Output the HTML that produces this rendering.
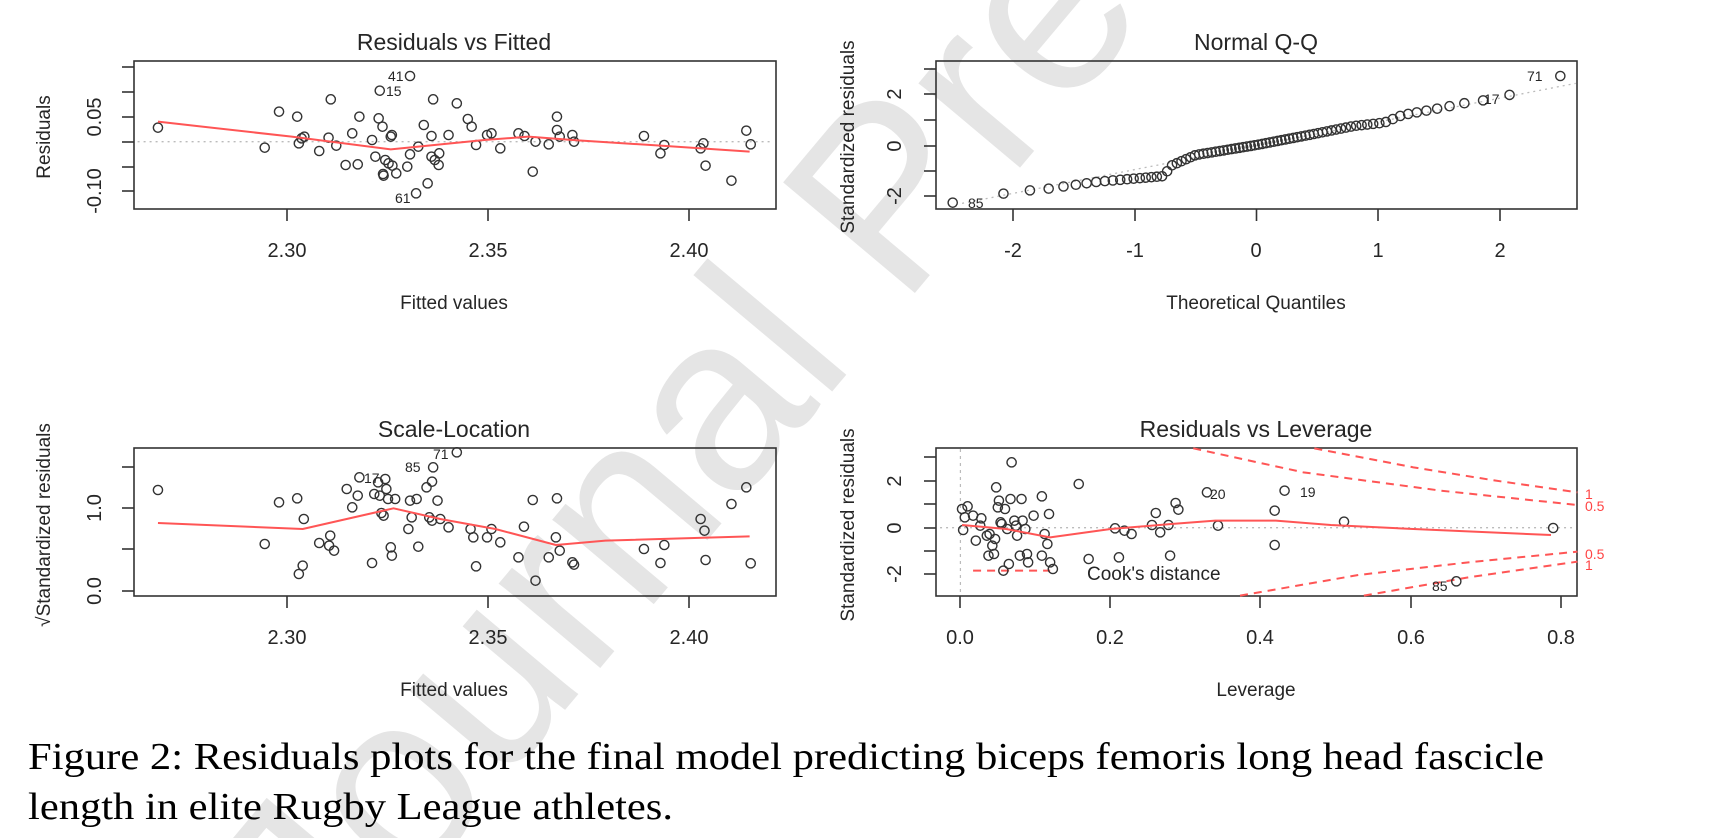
<!DOCTYPE html>
<html><head><meta charset="utf-8"><style>
html,body{margin:0;padding:0;background:#fff;overflow:hidden;width:1726px;height:838px;}
svg{display:block;}
text{font-family:"Liberation Sans",Arial,sans-serif;fill:#262626;}
.t{font-size:23px;}
.tk{font-size:20px;}
.al{font-size:19px;}
.pl{font-size:14px;}
.cap{font-family:"Liberation Serif","Times New Roman",serif;font-size:38px;fill:#000;}
</style></head><body>
<svg id="s" width="1726" height="838" viewBox="0 0 1726 838" xmlns="http://www.w3.org/2000/svg" overflow="hidden">
<text x="330" y="990" transform="rotate(-50 330 990)" style="font-size:250px;fill:#e5e5e5;font-family:'Liberation Sans',sans-serif">Journal Pre-proof</text>
<g id="g"></g>
<!-- Plot 1 -->
<text class="t" x="454" y="50" text-anchor="middle">Residuals vs Fitted</text>
<text class="al" x="454" y="309" text-anchor="middle">Fitted values</text>
<text class="al" transform="translate(50,137) rotate(-90)" text-anchor="middle">Residuals</text>
<text class="tk" x="287" y="257" text-anchor="middle">2.30</text>
<text class="tk" x="488" y="257" text-anchor="middle">2.35</text>
<text class="tk" x="689" y="257" text-anchor="middle">2.40</text>
<text class="tk" transform="translate(101,117) rotate(-90)" text-anchor="middle">0.05</text>
<text class="tk" transform="translate(101,191) rotate(-90)" text-anchor="middle">-0.10</text>
<text class="pl" x="388" y="81">41</text>
<text class="pl" x="386" y="96">15</text>
<text class="pl" x="395" y="203">61</text>
<!-- Plot 2 -->
<text class="t" x="1256" y="50" text-anchor="middle">Normal Q-Q</text>
<text class="al" x="1256" y="309" text-anchor="middle">Theoretical Quantiles</text>
<text class="al" transform="translate(854,137) rotate(-90)" text-anchor="middle">Standardized residuals</text>
<text class="tk" x="1013" y="257" text-anchor="middle">-2</text>
<text class="tk" x="1135" y="257" text-anchor="middle">-1</text>
<text class="tk" x="1256" y="257" text-anchor="middle">0</text>
<text class="tk" x="1378" y="257" text-anchor="middle">1</text>
<text class="tk" x="1500" y="257" text-anchor="middle">2</text>
<text class="tk" transform="translate(901,94) rotate(-90)" text-anchor="middle">2</text>
<text class="tk" transform="translate(901,146) rotate(-90)" text-anchor="middle">0</text>
<text class="tk" transform="translate(901,196) rotate(-90)" text-anchor="middle">-2</text>
<text class="pl" x="968" y="208">85</text>
<text class="pl" x="1484" y="104">17</text>
<text class="pl" x="1527" y="81">71</text>
<!-- Plot 3 -->
<text class="t" x="454" y="437" text-anchor="middle">Scale-Location</text>
<text class="al" x="454" y="696" text-anchor="middle">Fitted values</text>
<text class="al" transform="translate(50,525) rotate(-90)" text-anchor="middle">√Standardized residuals</text>
<text class="tk" x="287" y="644" text-anchor="middle">2.30</text>
<text class="tk" x="488" y="644" text-anchor="middle">2.35</text>
<text class="tk" x="689" y="644" text-anchor="middle">2.40</text>
<text class="tk" transform="translate(101,508) rotate(-90)" text-anchor="middle">1.0</text>
<text class="tk" transform="translate(101,591) rotate(-90)" text-anchor="middle">0.0</text>
<text class="pl" x="364" y="483">17</text>
<text class="pl" x="405" y="472">85</text>
<text class="pl" x="433" y="459">71</text>
<!-- Plot 4 -->
<text class="t" x="1256" y="437" text-anchor="middle">Residuals vs Leverage</text>
<text class="al" x="1256" y="696" text-anchor="middle">Leverage</text>
<text class="al" transform="translate(854,525) rotate(-90)" text-anchor="middle">Standardized residuals</text>
<text class="tk" x="960" y="644" text-anchor="middle">0.0</text>
<text class="tk" x="1110" y="644" text-anchor="middle">0.2</text>
<text class="tk" x="1260" y="644" text-anchor="middle">0.4</text>
<text class="tk" x="1411" y="644" text-anchor="middle">0.6</text>
<text class="tk" x="1561" y="644" text-anchor="middle">0.8</text>
<text class="tk" transform="translate(901,481) rotate(-90)" text-anchor="middle">2</text>
<text class="tk" transform="translate(901,528) rotate(-90)" text-anchor="middle">0</text>
<text class="tk" transform="translate(901,574) rotate(-90)" text-anchor="middle">-2</text>
<text class="al" x="1087" y="580">Cook's distance</text>
<text class="pl" x="1210" y="499">20</text>
<text class="pl" x="1300" y="497">19</text>
<text class="pl" x="1432" y="591">85</text>
<text class="pl" x="1585" y="499" style="fill:#f44">1</text>
<text class="pl" x="1585" y="511" style="fill:#f44">0.5</text>
<text class="pl" x="1585" y="559" style="fill:#f44">0.5</text>
<text class="pl" x="1585" y="570" style="fill:#f44">1</text>
<!-- caption -->
<text class="cap" x="28" y="769" textLength="1516" lengthAdjust="spacingAndGlyphs">Figure 2: Residuals plots for the final model predicting biceps femoris long head fascicle</text>
<text class="cap" x="28" y="819" textLength="645" lengthAdjust="spacingAndGlyphs">length in elite Rugby League athletes.</text>
</svg>
<script>
var NS="http://www.w3.org/2000/svg",G=document.getElementById("g");
function el(n,a){var e=document.createElementNS(NS,n);for(var k in a)e.setAttribute(k,a[k]);G.appendChild(e);return e;}
var KX=863/1568,KY=419/1257;
function P(ox,oy){return function(p){return [ox+p[0]*KX,oy+p[1]*KY];};}
function box(x1,y1,x2,y2){el("rect",{x:x1,y:y1,width:x2-x1,height:y2-y1,fill:"none",stroke:"#333","stroke-width":1.6});}
function xt(xs,y){xs.forEach(function(x){el("line",{x1:x,y1:y,x2:x,y2:y+12,stroke:"#333","stroke-width":1.6});});}
function yt(ys,x){ys.forEach(function(y){el("line",{x1:x-12,y1:y,x2:x,y2:y,stroke:"#333","stroke-width":1.6});});}
function pts(f,arr){arr.forEach(function(p){var q=f(p);el("circle",{cx:q[0],cy:q[1],r:4.6,fill:"none",stroke:"#333","stroke-width":1.4});});}
function line(f,arr,a){el("polyline",Object.assign({points:arr.map(function(p){return f(p).join(",");}).join(" "),fill:"none"},a));}
var RED={stroke:"#f55","stroke-width":2,"stroke-linejoin":"round"};
var DOT={stroke:"#bbb","stroke-width":1.3,"stroke-dasharray":"2,4"};
var f1=P(0,0);
line(f1,[[250,425],[1405,425]],DOT);
box(134,61,776,209);xt([287,488,689],209);yt([67,92,117,142,167,191],134);
pts(f1,[[287,383],[481,443],[507,335],[540,350],[543,430],[548,415],[553,410],[580,453],[597,413],[601,298],[611,437],[628,495],[640,400],[650,493],[653,350],[676,420],[682,470],[690,272],[688,355],[695,380],[700,480],[706,490],[710,410],[712,405],[713,497],[697,527],[696,522],[720,520],[740,500],[745,228],[745,463],[756,580],[760,440],[770,375],[777,550],[784,408],[787,298],[784,470],[790,480],[798,460],[797,495],[815,405],[830,310],[850,357],[857,380],[865,435],[885,405],[893,400],[909,445],[942,400],[953,408],[968,515],[973,425],[997,433],[1012,350],[1012,390],[1017,410],[1040,405],[1043,425],[1170,408],[1200,460],[1207,435],[1273,445],[1278,430],[1282,497],[1329,542],[1356,392],[1364,433]]);
line(f1,[[287,365],[530,410],[710,448],[880,420],[960,410],[1040,420],[1200,437],[1362,455]],RED);
var f2=P(863,0);
line(f2,[[180,610],[1295,250]],DOT);
box(936,61,1577,209);xt([1013,1135,1256.5,1378,1500],209);yt([69,94,120,146,171,196],936);
function erf(x){var s=x<0?-1:1;x=Math.abs(x);var t=1/(1+0.3275911*x);var y=1-(((((1.061405429*t-1.453152027)*t)+1.421413741)*t-0.284496736)*t+0.254829592)*t*Math.exp(-x*x);return s*y;}
function pn(x){return 0.5*(1+erf(x/Math.SQRT2));}
function qn(p){var lo=-6,hi=6;for(var i=0;i<60;i++){var m=(lo+hi)/2;if(pn(m)<p)lo=m;else hi=m;}return (lo+hi)/2;}
var K=[[-2.45,608],[-2.0,575],[-1.75,568],[-1.5,555],[-1.3,545],[-0.75,528],[-0.72,500],[-0.5,465],[0,435],[0.5,400],[0.8,378],[1.05,368],[1.2,345],[1.5,325],[1.8,303],[2.0,297],[2.45,228]];
function iy(q){if(q<=K[0][0])return K[0][1];for(var i=1;i<K.length;i++){if(q<=K[i][0]){var a=K[i-1],b=K[i];return a[1]+(b[1]-a[1])*(q-a[0])/(b[0]-a[0]);}}return K[K.length-1][1];}
var n=80,qq=[];for(var i=1;i<=n;i++){var q=qn((i-0.5)/n);qq.push([715+q*221,iy(q)]);}
pts(f2,qq);
var f3=P(0,419);
box(134,448,776,596);xt([287,488,689],596);yt([467,508,549,591],134);
pts(f3,[[287,213],[481,375],[507,250],[540,238],[552,300],[543,465],[550,440],[580,372],[600,350],[598,380],[607,395],[630,210],[640,265],[650,230],[653,175],[676,432],[680,225],[687,190],[690,230],[693,282],[697,290],[700,180],[702,210],[705,240],[710,385],[712,410],[718,240],[742,330],[745,245],[748,295],[757,240],[760,383],[775,205],[785,188],[787,145],[795,245],[780,295],[785,305],[800,300],[815,325],[830,100],[855,330],[860,355],[865,442],[885,355],[893,330],[909,370],[942,415],[952,323],[968,243],[973,485],[997,415],[1010,355],[1012,238],[1017,395],[1040,430],[1043,437],[1170,390],[1200,432],[1207,378],[1273,300],[1280,335],[1282,423],[1329,255],[1356,205],[1364,433]]);
line(f3,[[287,312],[550,330],[715,268],[800,300],[900,330],[1010,378],[1100,365],[1362,352]],RED);
var f4=P(863,419);
line(f4,[[140,326],[1295,326]],DOT);
line(f4,[[177,90],[177,528]],{stroke:"#bbb","stroke-width":1.2,"stroke-dasharray":"3,4"});
box(936,448,1577,596);xt([960,1110,1260,1411,1561],596);yt([457,481,504,528,551,574],936);
var DS={stroke:"#f55","stroke-width":2,"stroke-dasharray":"8,6"};
line(f4,[[820,88],[1000,145],[1150,185],[1298,220]],DS);
line(f4,[[600,88],[800,160],[1050,215],[1298,258]],DS);
line(f4,[[685,530],[900,468],[1100,430],[1298,398]],DS);
line(f4,[[910,530],[1100,475],[1298,428]],DS);
line(f4,[[200,455],[340,455]],DS);
pts(f4,[[180,270],[185,295],[182,333],[190,262],[200,290],[205,365],[215,298],[213,320],[225,350],[228,410],[230,345],[235,380],[238,405],[240,360],[242,205],[245,265],[247,245],[250,310],[252,315],[255,455],[258,270],[262,330],[265,435],[268,240],[270,130],[275,305],[278,320],[280,350],[285,410],[288,240],[290,305],[295,330],[298,405],[300,430],[310,290],[325,232],[325,410],[330,345],[335,375],[338,285],[340,430],[345,450],[392,195],[410,420],[458,328],[465,415],[475,335],[488,345],[525,318],[532,282],[540,340],[555,318],[558,410],[568,252],[573,272],[625,220],[645,320],[748,275],[748,378],[766,215],[874,308],[1078,487],[1254,327]]);
line(f4,[[180,318],[260,330],[340,355],[450,330],[560,315],[640,305],[750,305],[850,318],[1000,330],[1250,348]],RED);
</script>
</body></html>
